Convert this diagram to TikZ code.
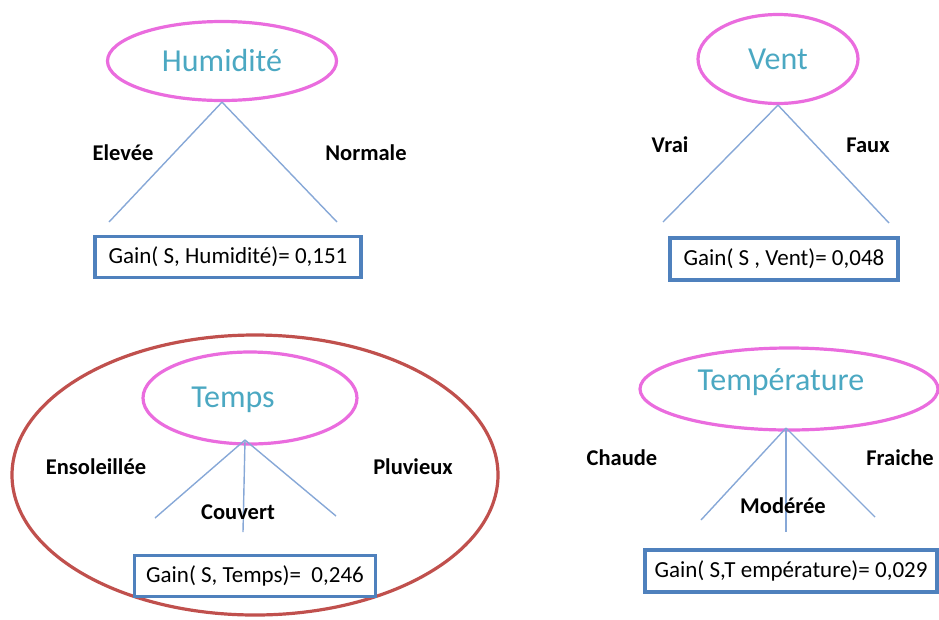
\documentclass[tikz,border=0pt]{standalone}
\usepackage{fontspec}
\setmainfont{Carlito}
\usepackage{tikz}
\usetikzlibrary{shapes.geometric}
\definecolor{dpink}{RGB}{234,108,222}
\definecolor{dteal}{RGB}{75,168,194}
\definecolor{dline}{RGB}{135,168,215}
\definecolor{dbox}{RGB}{79,129,189}
\definecolor{dred}{RGB}{192,80,77}
\tikzset{
  attr/.style={ellipse,draw=dpink,line width=3.2pt,text=dteal,font=\fontsize{32}{38}\selectfont},
  val/.style={font=\bfseries\fontsize{22.5}{27}\selectfont},
  gain/.style={draw=dbox,line width=3.2pt,fill=white,font=\fontsize{23}{27}\selectfont},
  branch/.style={dline,line width=1.4pt}
}

\begin{document}
\begin{tikzpicture}[x=1pt,y=-1pt]
\useasboundingbox (0,0) rectangle (939,619);
\node[attr,minimum width=229pt,minimum height=79pt] (hum) at (222,61) {Humidité};
\coordinate (hum1) at (109,222);
\coordinate (hum2) at (337,222);
\draw[branch] (hum.south) -- (hum1);
\draw[branch] (hum.south) -- (hum2);
\node[val] (elev) at (123,153) {Elevée};
\node[val] (norm) at (366,153) {Normale};
\node[gain,minimum width=266pt,minimum height=41pt] (ghum) at (228,257) {Gain( S, Humidité)= 0,151};
\node[attr,minimum width=160pt,minimum height=89pt] (vent) at (778,59) {Vent};
\coordinate (vent1) at (663,222);
\coordinate (vent2) at (889,223);
\draw[branch] (vent.south) -- (vent1);
\draw[branch] (vent.south) -- (vent2);
\node[val] (vrai) at (670,145) {Vrai};
\node[val] (faux) at (868,145) {Faux};
\node[gain,minimum width=228pt,minimum height=42pt] (gvent) at (784,259) {Gain( S , Vent)= 0,048};
\node[ellipse,draw=dred,line width=3.2pt,minimum width=486pt,minimum height=280pt] (best) at (255,475) {};
\node[attr,minimum width=214pt,minimum height=92pt] (temps) at (250,398) {};
\node[text=dteal,font=\fontsize{32}{38}\selectfont] (tempst) at (233,400) {Temps};
\coordinate (temps0) at (245,440);
\coordinate (temps1) at (155,518);
\coordinate (temps2) at (243,532);
\coordinate (temps3) at (336,516);
\draw[branch] (temps0) -- (temps1);
\draw[branch] (temps0) -- (temps2);
\draw[branch] (temps0) -- (temps3);
\node[val] (enso) at (96,467) {Ensoleillée};
\node[val] (couv) at (238,512) {Couvert};
\node[val] (pluv) at (413,467) {Pluvieux};
\node[gain,minimum width=241pt,minimum height=41pt] (gtemps) at (255,576) {Gain( S, Temps)=\ \ 0,246};
\node[attr,minimum width=298pt,minimum height=82pt] (temp) at (789,389) {};
\node[text=dteal,font=\fontsize{32}{38}\selectfont] (tempt) at (781,382) {Température};
\coordinate (temp0) at (786,428);
\coordinate (temp1) at (701,520);
\coordinate (temp2) at (786,532);
\coordinate (temp3) at (875,517);
\draw[branch] (temp0) -- (temp1);
\draw[branch] (temp0) -- (temp2);
\draw[branch] (temp0) -- (temp3);
\node[val] (chau) at (622,458) {Chaude};
\node[val] (mode) at (783,506) {Modérée};
\node[val] (frai) at (900,458) {Fraiche};
\node[gain,minimum width=292pt,minimum height=42pt] (gtemp) at (791,571) {Gain( S,T empérature)= 0,029};
\end{tikzpicture}
\end{document}
